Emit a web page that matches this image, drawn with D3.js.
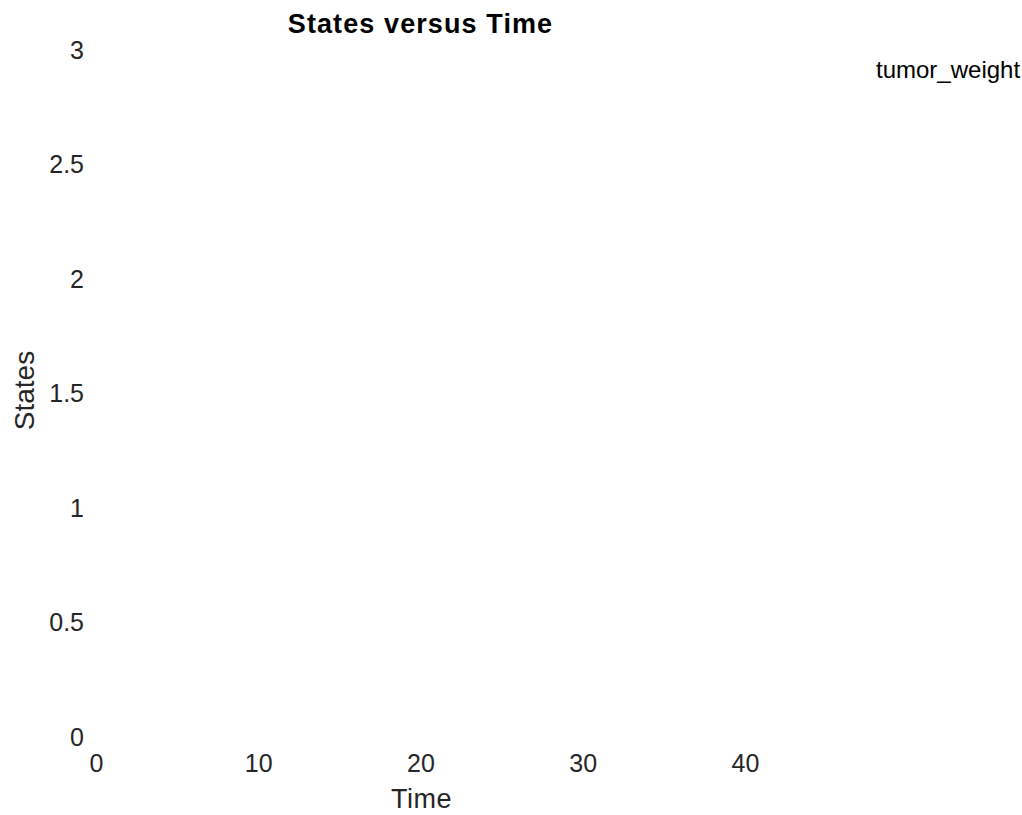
<!DOCTYPE html>
<html>
<head>
<meta charset="utf-8">
<script src="https://cdn.jsdelivr.net/npm/d3@7"></script>
<style>
  html, body { margin: 0; padding: 0; background: #fff; }
  svg { display: block; }
  text { font-family: "Liberation Sans", Arial, Helvetica, sans-serif; }
</style>
</head>
<body>
<svg id="chart" width="1022" height="815"></svg>
<script>
// ---- data (the series has no visible points in the reference) ----
const seriesNames = ["tumor_weight"];
const timeValues = [];
const tumorWeightValues = [];
const xTicks = [0, 10, 20, 30, 40];
const yTicks = [0, 0.5, 1, 1.5, 2, 2.5, 3];
const titleText = "States versus Time";
const xLabelText = "Time";
const yLabelText = "States";

const svg = d3.select("#chart");
const x = d3.scaleLinear().domain([0, 40]).range([96, 745]);
const y = d3.scaleLinear().domain([0, 3]).range([737, 50]);

const tickColor = "#262626";

// x axis (no visible line or tick marks)
const gx = svg.append("g")
  .attr("transform", `translate(0,${y(0)})`)
  .call(d3.axisBottom(x).tickValues(xTicks).tickFormat(d3.format("d")).tickSize(0).tickPadding(17));
gx.select(".domain").remove();
gx.selectAll("text").attr("fill", tickColor).style("font-size", "25px");

// y axis
const gy = svg.append("g")
  .attr("transform", `translate(${x(0)},0)`)
  .call(d3.axisLeft(y).tickValues(yTicks).tickFormat(d => String(d)).tickSize(0).tickPadding(12));
gy.select(".domain").remove();
gy.selectAll("text").attr("fill", tickColor).style("font-size", "25px");

// series line (empty data)
const line = d3.line().x((d, i) => x(timeValues[i])).y(d => y(d));
svg.append("path")
  .datum(tumorWeightValues)
  .attr("fill", "none")
  .attr("stroke", "#0072bd")
  .attr("stroke-width", 1.5)
  .attr("d", line);

// title
svg.append("text")
  .attr("x", (x(0) + x(40)) / 2)
  .attr("y", 33)
  .attr("text-anchor", "middle")
  .attr("fill", "#000")
  .style("font-size", "27px")
  .style("letter-spacing", "1.1px")
  .style("font-weight", "bold")
  .text(titleText);

// x label
svg.append("text")
  .attr("x", (x(0) + x(40)) / 2 + 1)
  .attr("y", 808)
  .attr("text-anchor", "middle")
  .attr("fill", tickColor)
  .style("font-size", "27px")
  .style("letter-spacing", "0.5px")
  .text(xLabelText);

// y label
svg.append("text")
  .attr("transform", `translate(34,${(y(0) + y(3)) / 2 - 3}) rotate(-90)`)
  .attr("text-anchor", "middle")
  .attr("fill", tickColor)
  .style("font-size", "28px")
  .text(yLabelText);

// legend
svg.append("g").selectAll("text")
  .data(seriesNames)
  .join("text")
  .attr("x", 876)
  .attr("y", 78)
  .attr("fill", "#000")
  .style("font-size", "24px")
  .text(d => d);
</script>
</body>
</html>
